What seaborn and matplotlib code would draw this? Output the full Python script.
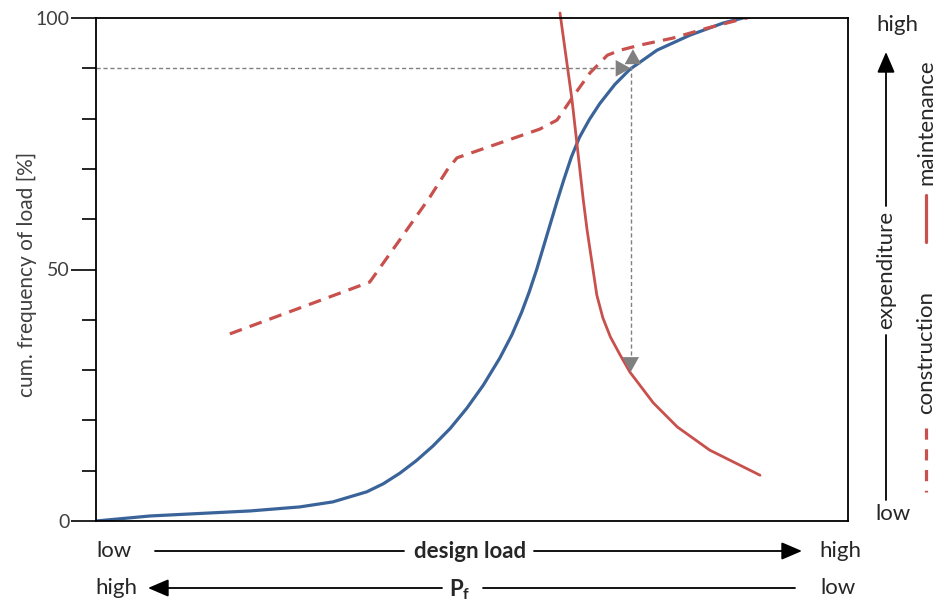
import matplotlib
matplotlib.use("Agg")
import matplotlib.pyplot as plt
from matplotlib.patches import FancyArrowPatch
from matplotlib.lines import Line2D
import seaborn as sns

# load distribution (cumulative frequency, %), x = design load in relative units 0..100
load_x = [0, 7.2, 20.5, 27.1, 31.5, 36.0, 38.2, 40.4, 42.6, 44.8, 47.1, 49.3, 51.5, 53.7,
          55.3, 56.6, 57.6, 58.6, 59.5, 60.4, 61.3, 62.2, 63.2, 64.3, 65.6, 67.0, 69.0,
          71.0, 74.6, 79.0, 83.4, 87.6]
load_y = [0, 1.0, 2.0, 2.8, 3.8, 5.8, 7.4, 9.5, 12.0, 14.9, 18.4, 22.4, 27.0, 32.4,
          37.0, 41.5, 45.5, 50.0, 54.5, 59.0, 63.5, 67.8, 72.3, 76.3, 79.8, 83.0, 86.8,
          89.8, 93.6, 96.6, 99.0, 100.6]

# construction expenditure (dashed)
constr_x = [17.8, 36.4, 40.4, 44.4, 46.7, 48.0, 59.0, 61.3, 63.4, 65.7, 68.0, 69.7, 72.3, 76.7, 81.3, 87.0]
constr_y = [37.2, 47.5, 55.9, 64.4, 69.8, 72.2, 77.9, 79.7, 84.3, 89.1, 92.6, 93.6, 94.6, 96.0, 98.0, 100.2]

# maintenance expenditure (solid)
maint_x = [61.7, 63.3, 64.8, 65.3, 66.0, 66.6, 67.4, 68.4, 69.7, 71.0, 74.1, 77.3, 81.6, 88.3]
maint_y = [101.0, 83.7, 63.8, 57.9, 50.9, 44.9, 40.4, 36.6, 33.0, 29.6, 23.5, 18.7, 14.1, 9.1]

y_major = [0, 50, 100]
y_minor = [10, 20, 30, 40, 60, 70, 80, 90]

target_freq = 90
target_load = 71.1
arrow_top = 93.8
arrow_bottom = 29.6

BLUE = "#3A6499"
RED = "#C8504D"
GREY = "#808080"
TXT = "#262626"

sns.set_theme(style="white")
plt.rcParams["font.family"] = ["Lato", "DejaVu Sans"]

W, H = 936, 602
fig = plt.figure(figsize=(W / 100, H / 100), dpi=100)
ax = fig.add_axes([96 / W, 1 - 521 / H, 752 / W, 503 / H])

sns.lineplot(x=load_x, y=load_y, color=BLUE, lw=2.3, ax=ax, sort=False)
sns.lineplot(x=constr_x, y=constr_y, color=RED, lw=2.3, ax=ax, sort=False,
             linestyle=(0, (4, 2.6)))
sns.lineplot(x=maint_x, y=maint_y, color=RED, lw=2.0, ax=ax, sort=False, clip_on=False)

# guide lines with arrow heads
dash = (0, (3, 2))
ax.plot([0, target_load - 1], [target_freq, target_freq], color=GREY, lw=1, ls=dash)
ax.plot([target_load, target_load], [arrow_bottom + 2, arrow_top - 2], color=GREY, lw=1, ls=dash)
head = dict(arrowstyle="-|>,head_length=0.9,head_width=0.5", color=GREY, lw=0,
            shrinkA=0, shrinkB=0)
ax.annotate("", xy=(target_load, target_freq), xytext=(target_load - 2.2, target_freq),
            arrowprops=head)
ax.annotate("", xy=(target_load + 0.3, arrow_top), xytext=(target_load + 0.3, arrow_top - 3),
            arrowprops=head)
ax.annotate("", xy=(target_load, arrow_bottom), xytext=(target_load, arrow_bottom + 3),
            arrowprops=head)

ax.set_xlim(0, 100)
ax.set_ylim(0, 100)
ax.set_xticks([])
ax.set_yticks(y_major)
ax.set_yticks(y_minor, minor=True)
ax.tick_params(axis="y", which="major", direction="out", length=18, width=1.2, pad=1,
               color="black", labelsize=14, labelcolor="#404040", left=True)
ax.tick_params(axis="y", which="minor", direction="out", length=10, width=1.2,
               color="black", left=True)
for s in ax.spines.values():
    s.set_color("black")
    s.set_linewidth(1.3)
ax.set_ylabel("cum. frequency of load [%]", fontsize=15, color="#404040")
ax.yaxis.set_label_coords(-0.078, 0.49)


def fx(px):
    return px / W


def fy(py):
    return 1 - py / H


txt = dict(fontsize=16, color=TXT, va="center", ha="center")
arrow = dict(arrowstyle="-|>,head_length=0.7,head_width=0.3", color="black", lw=1.3,
             shrinkA=0, shrinkB=0, mutation_scale=18, transform=fig.transFigure)


def hline(x0, x1, y):
    fig.add_artist(Line2D([fx(x0), fx(x1)], [fy(y), fy(y)], color="black", lw=1.3))


def vline(x, y0, y1, **kw):
    kw.setdefault("color", "black")
    kw.setdefault("lw", 1.3)
    fig.add_artist(Line2D([fx(x), fx(x)], [fy(y0), fy(y1)], **kw))


def arr(p0, p1):
    fig.add_artist(FancyArrowPatch((fx(p0[0]), fy(p0[1])), (fx(p1[0]), fy(p1[1])), **arrow))


# bottom: design load
fig.text(fx(114), fy(551), "low", **txt)
fig.text(fx(840), fy(551), "high", **txt)
fig.text(fx(470), fy(551), "design load", fontweight="bold", **txt)
hline(155, 404, 551)
arr((534, 551), (802, 551))

# bottom: probability of failure
fig.text(fx(116), fy(588), "high", **txt)
fig.text(fx(838), fy(588), "low", **txt)
fig.text(fx(460), fy(590), "P$_\\mathregular{f}$", fontweight="bold", **txt)
arr((442, 588), (148, 588))
hline(483, 795, 588)

# right side: expenditure axis
fig.text(fx(897), fy(25), "high", **txt)
fig.text(fx(893), fy(514), "low", **txt)
fig.text(fx(886), fy(270), "expenditure", rotation=90, **txt)
arr((886, 206), (886, 52))
vline(886, 335, 500)

# legend along the right edge
fig.text(fx(926), fy(122), "maintenance", rotation=90, **txt)
vline(926, 195, 242, color=RED, lw=2.3)
fig.text(fx(926), fy(352), "construction", rotation=90, **txt)
vline(926, 428, 492, color=RED, lw=2.3, ls=(0, (3.5, 3)))

fig.savefig("out.png", dpi=100)
